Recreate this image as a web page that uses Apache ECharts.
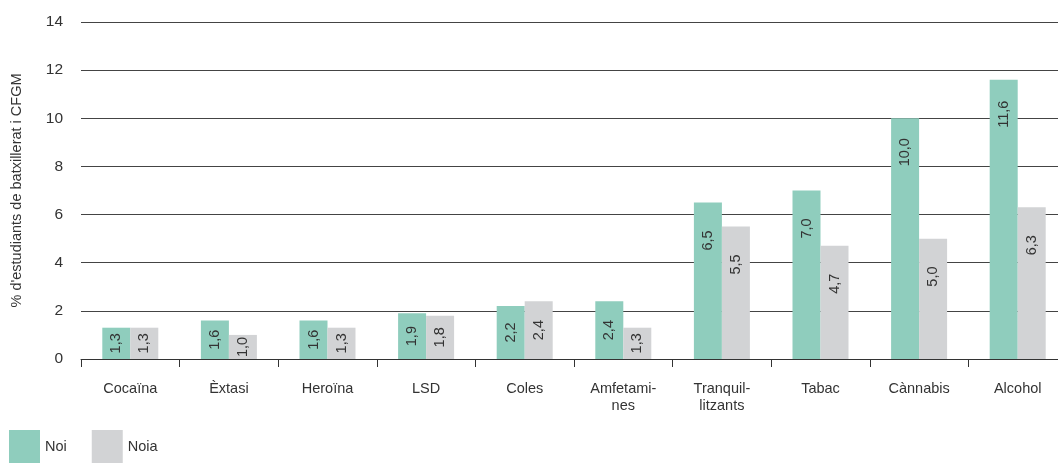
<!DOCTYPE html>
<html><head><meta charset="utf-8">
<script src="https://cdn.jsdelivr.net/npm/echarts@6/dist/echarts.min.js"></script>
<style>html,body{margin:0;padding:0;background:#fff}#c{width:1058px;height:463px}</style>
</head><body><div id="c"></div>
<script>
const categories = ['Cocaïna','Èxtasi','Heroïna','LSD','Coles','Amfetami-\nnes','Tranquil-\nlitzants','Tabac','Cànnabis','Alcohol'];
const noi = [1.3,1.6,1.6,1.9,2.2,2.4,6.5,7.0,10.0,11.6];
const noia = [1.3,1.0,1.3,1.8,2.4,1.3,5.5,4.7,5.0,6.3];
const yTicks = [0,2,4,6,8,10,12,14];
const font = 'Liberation Sans, Arial, sans-serif';
const fs = 14.5;
const chart = echarts.init(document.getElementById('c'));
const fmt = p => p.value.toFixed(1).replace('.', ',');
function items(arr) {
  return arr.map(v => {
    const tall = v >= 3;
    return {
      value: v,
      label: tall
        ? {show: true, position: 'insideTop', distance: 48, rotate: 90, align: 'left', verticalAlign: 'middle'}
        : {show: true, position: 'inside', rotate: 90, align: 'center', verticalAlign: 'middle'}
    };
  });
}
const lblBase = {show: true, color: '#333', fontSize: fs, fontFamily: font, formatter: fmt};
chart.setOption({
  animation: false,
  textStyle: {fontFamily: font},
  grid: {left: 81, right: -9, top: 22, bottom: 104, containLabel: false, outerBoundsMode: 'none'},
  legend: {
    left: 9, bottom: 0, padding: 0, itemWidth: 31, itemHeight: 33, itemGap: 25,
    icon: 'rect', textStyle: {color: '#333', fontSize: fs, fontFamily: font},
    data: ['Noi','Noia']
  },
  xAxis: {
    type: 'category', data: categories,
    axisLine: {lineStyle: {color: '#333', width: 1}},
    axisTick: {show: true, length: 8, lineStyle: {color: '#333'}},
    axisLabel: {color: '#333', fontSize: fs, fontFamily: font, margin: 21, lineHeight: 17}
  },
  yAxis: {
    type: 'value', min: 0, max: 14, interval: 2,
    name: "% d'estudiants de batxillerat i CFGM", nameLocation: 'middle', nameGap: 57,
    nameTextStyle: {color: '#333', fontSize: fs, fontFamily: font},
    axisLine: {show: false}, axisTick: {show: false},
    axisLabel: {color: '#333', fontSize: 15.5, fontFamily: font, margin: 18,
      formatter: v => yTicks.includes(v) ? String(v) : ''},
    splitLine: {lineStyle: {color: '#444', width: 1}}
  },
  series: [
    {name: 'Noi', type: 'bar', data: items(noi), barWidth: 28, barGap: '0%', itemStyle: {color: '#8fcdbd'}, label: lblBase},
    {name: 'Noia', type: 'bar', data: items(noia), barWidth: 28, itemStyle: {color: '#d2d3d5'}, label: lblBase}
  ]
});
</script></body></html>
